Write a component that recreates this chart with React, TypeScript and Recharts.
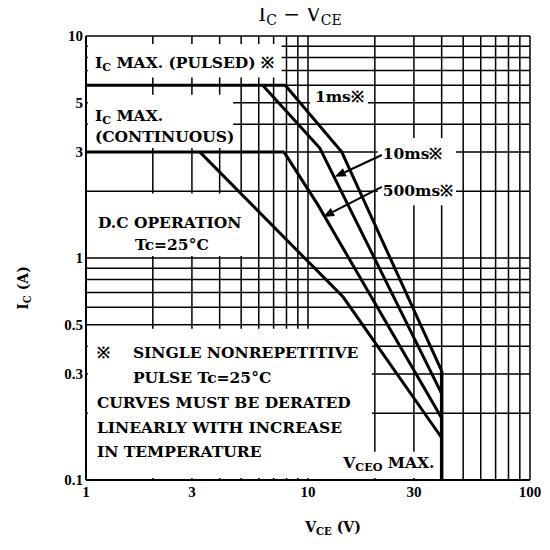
import React from 'react';
import { LineChart, Line, XAxis, YAxis, CartesianGrid, ReferenceArea, ReferenceLine } from 'recharts';

const xTicks = [1, 2, 3, 4, 5, 6, 7, 8, 9, 10, 20, 30, 40, 50, 60, 70, 80, 90, 100];
const xLabeled = [1, 3, 10, 30, 100];
const yTicks = [0.1, 0.2, 0.3, 0.4, 0.5, 0.6, 0.7, 0.8, 0.9, 1, 2, 3, 4, 5, 6, 7, 8, 9, 10];
const yLabeled = [0.1, 0.3, 0.5, 1, 3, 5, 10];

const pulsedLimit = [{ v: 1, i: 6 }, { v: 7.9, i: 6 }];
const curve1ms = [{ v: 7.9, i: 6 }, { v: 14.2, i: 3 }, { v: 40, i: 0.31 }];
const curve10ms = [{ v: 6.25, i: 6 }, { v: 11.3, i: 3.13 }, { v: 40, i: 0.245 }];
const contLimit = [{ v: 1, i: 3 }, { v: 7.8, i: 3 }];
const curve500ms = [{ v: 7.8, i: 3 }, { v: 11.1, i: 1.73 }, { v: 40, i: 0.19 }];
const curveDC = [{ v: 3.26, i: 3 }, { v: 14.4, i: 0.667 }, { v: 40, i: 0.155 }];
const vceoMax = [{ v: 40, i: 0.1 }, { v: 40, i: 0.31 }];

const arrow10ms = [{ x: 21.5, y: 2.91 }, { x: 13.2, y: 2.32 }];
const arrow500ms = [{ x: 21.5, y: 2.09 }, { x: 11.7, y: 1.53 }];

const ANN = { fontFamily: 'DejaVu Serif', fontWeight: 'bold', fontSize: 15.5, fill: '#000' } as const;

const Arrow = (p: any) => {
  const { x1, y1, x2, y2 } = p;
  const ang = Math.atan2(y2 - y1, x2 - x1);
  const L = 11, W = 4.5;
  const bx = x2 - L * Math.cos(ang), by = y2 - L * Math.sin(ang);
  const pts = `${x2},${y2} ${bx - W * Math.sin(ang)},${by + W * Math.cos(ang)} ${bx + W * Math.sin(ang)},${by - W * Math.cos(ang)}`;
  return (
    <g>
      <line x1={x1} y1={y1} x2={bx} y2={by} stroke="#000" strokeWidth={2} />
      <polygon points={pts} fill="#000" />
    </g>
  );
};

const Sub = ({ children }: any) => (
  <tspan fontSize="0.72em" dy={3}>{children}</tspan>
);

const boxLabel = (render: (x: number, y: number) => React.ReactNode) => (props: any) => {
  const vb = props.viewBox || {};
  return <g>{render(vb.x, vb.y)}</g>;
};

const lineStyle = { stroke: '#000', strokeWidth: 3, dot: false, isAnimationActive: false, type: 'linear' as const };

export default function App() {
  return (
    <div style={{ position: 'relative', width: 542, height: 542 }}>
      <div
        style={{
          position: 'absolute', left: 0, top: -6, width: 584, textAlign: 'center',
          fontFamily: 'DejaVu Serif', fontSize: 20, color: '#000', whiteSpace: 'nowrap',
        }}
      >
        I<span style={{ fontSize: 14, position: 'relative', top: 4 }}>C</span> − V<span style={{ fontSize: 14, position: 'relative', top: 4 }}>CE</span>
      </div>
      <LineChart width={542} height={542} margin={{ top: 28, right: 20, bottom: 30, left: 0 }}>
        <CartesianGrid stroke="#000" strokeWidth={1.5} strokeOpacity={1} />
        <XAxis
          type="number" dataKey="v" scale="log" domain={[1, 100]} ticks={xTicks} allowDataOverflow
          interval={0} height={40} tickLine={false} tickSize={0} tickMargin={6}
          axisLine={{ stroke: '#000', strokeWidth: 2 }}
          tick={{ fill: '#000', fontSize: 15, fontFamily: 'Liberation Serif', fontWeight: 'bold' }}
          tickFormatter={(v: number) => (xLabeled.includes(v) ? String(v) : '')}
          label={{
            content: (p: any) => {
              const vb = p.viewBox;
              return (
                <text x={vb.x + vb.width / 2 + 25} y={vb.y + 52} textAnchor="middle"
                  style={{ fontFamily: 'DejaVu Serif', fontWeight: 'bold', fontSize: 14 }} fill="#000">
                  V<Sub>CE</Sub><tspan dy={-3}>{'  (V)'}</tspan>
                </text>
              );
            },
          }}
        />
        <YAxis
          type="number" dataKey="i" scale="log" domain={[0.1, 10]} ticks={yTicks} allowDataOverflow
          interval={0} width={78} tickLine={false} tickSize={0} tickMargin={3}
          axisLine={{ stroke: '#000', strokeWidth: 2 }}
          tick={{ fill: '#000', fontSize: 15, fontFamily: 'Liberation Serif', fontWeight: 'bold' }}
          tickFormatter={(v: number) => (yLabeled.includes(v) ? String(v) : '')}
          label={{
            content: (p: any) => {
              const vb = p.viewBox;
              const cx = vb.x + 20, cy = vb.y + 252;
              return (
                <text x={cx} y={cy} textAnchor="middle" transform={`rotate(-90 ${cx} ${cy})`}
                  style={{ fontFamily: 'DejaVu Serif', fontWeight: 'bold', fontSize: 14 }} fill="#000">
                  I<Sub>C</Sub><tspan dy={-3}>{'  (A)'}</tspan>
                </text>
              );
            },
          }}
        />

        <ReferenceArea x1={1.02} x2={7.6} y1={6.5} y2={9.2} fill="#fff" fillOpacity={1} stroke="none"
          label={{ content: boxLabel((x, y) => (
            <text x={x + 7} y={y + 24} style={ANN}>I<Sub>C</Sub><tspan dy={-3}> MAX. (PULSED) ※</tspan></text>
          )) }} />
        <ReferenceArea x1={1.02} x2={4.6} y1={3.13} y2={5.43} fill="#fff" fillOpacity={1} stroke="none"
          label={{ content: boxLabel((x, y) => (
            <g>
              <text x={x + 7} y={y + 26} style={ANN}>I<Sub>C</Sub><tspan dy={-3}> MAX.</tspan></text>
              <text x={x + 7} y={y + 47} style={ANN}>(CONTINUOUS)</text>
            </g>
          )) }} />
        <ReferenceArea x1={10.2} x2={18.6} y1={4.54} y2={5.83} fill="#fff" fillOpacity={1} stroke="none"
          label={{ content: boxLabel((x, y) => (
            <text x={x + 5} y={y + 14} style={ANN}>1ms※</text>
          )) }} />
        <ReferenceArea x1={20.6} x2={46.4} y1={1.73} y2={3.47} fill="#fff" fillOpacity={1} stroke="none"
          label={{ content: boxLabel((x, y) => (
            <g>
              <text x={x + 5} y={y + 21} style={ANN}>10ms※</text>
              <text x={x + 5} y={y + 58} style={ANN}>500ms※</text>
            </g>
          )) }} />
        <ReferenceArea x1={1.02} x2={5.2} y1={1.02} y2={1.95} fill="#fff" fillOpacity={1} stroke="none"
          label={{ content: boxLabel((x, y) => (
            <g>
              <text x={x + 10} y={y + 34} style={ANN}>D.C OPERATION</text>
              <text x={x + 47} y={y + 56} style={ANN}>Tc=25°C</text>
            </g>
          )) }} />
        <ReferenceArea x1={1.02} x2={19.4} y1={0.102} y2={0.48} fill="#fff" fillOpacity={1} stroke="none"
          label={{ content: boxLabel((x, y) => (
            <g>
              <text x={x + 9} y={y + 29} style={ANN}>※</text>
              <text x={x + 45} y={y + 29} style={ANN}>SINGLE NONREPETITIVE</text>
              <text x={x + 45} y={y + 54} style={ANN}>PULSE Tc=25°C</text>
              <text x={x + 9} y={y + 79} style={ANN}>CURVES MUST BE DERATED</text>
              <text x={x + 9} y={y + 104} style={ANN}>LINEARLY WITH INCREASE</text>
              <text x={x + 9} y={y + 128} style={ANN}>IN TEMPERATURE</text>
            </g>
          )) }} />
        <ReferenceArea x1={13} x2={39.4} y1={0.102} y2={0.134} fill="#fff" fillOpacity={1} stroke="none"
          label={{ content: boxLabel((x, y) => (
            <text x={x + 10} y={y + 16} style={ANN}>V<Sub>CEO</Sub><tspan dy={-3}> MAX.</tspan></text>
          )) }} />

        <ReferenceLine segment={arrow10ms} shape={Arrow} ifOverflow="visible" />
        <ReferenceLine segment={arrow500ms} shape={Arrow} ifOverflow="visible" />

        <Line data={pulsedLimit} dataKey="i" {...lineStyle} />
        <Line data={curve1ms} dataKey="i" {...lineStyle} />
        <Line data={curve10ms} dataKey="i" {...lineStyle} />
        <Line data={contLimit} dataKey="i" {...lineStyle} />
        <Line data={curve500ms} dataKey="i" {...lineStyle} />
        <Line data={curveDC} dataKey="i" {...lineStyle} />
        <Line data={vceoMax} dataKey="i" {...lineStyle} strokeWidth={3.5} />
      </LineChart>
    </div>
  );
}
